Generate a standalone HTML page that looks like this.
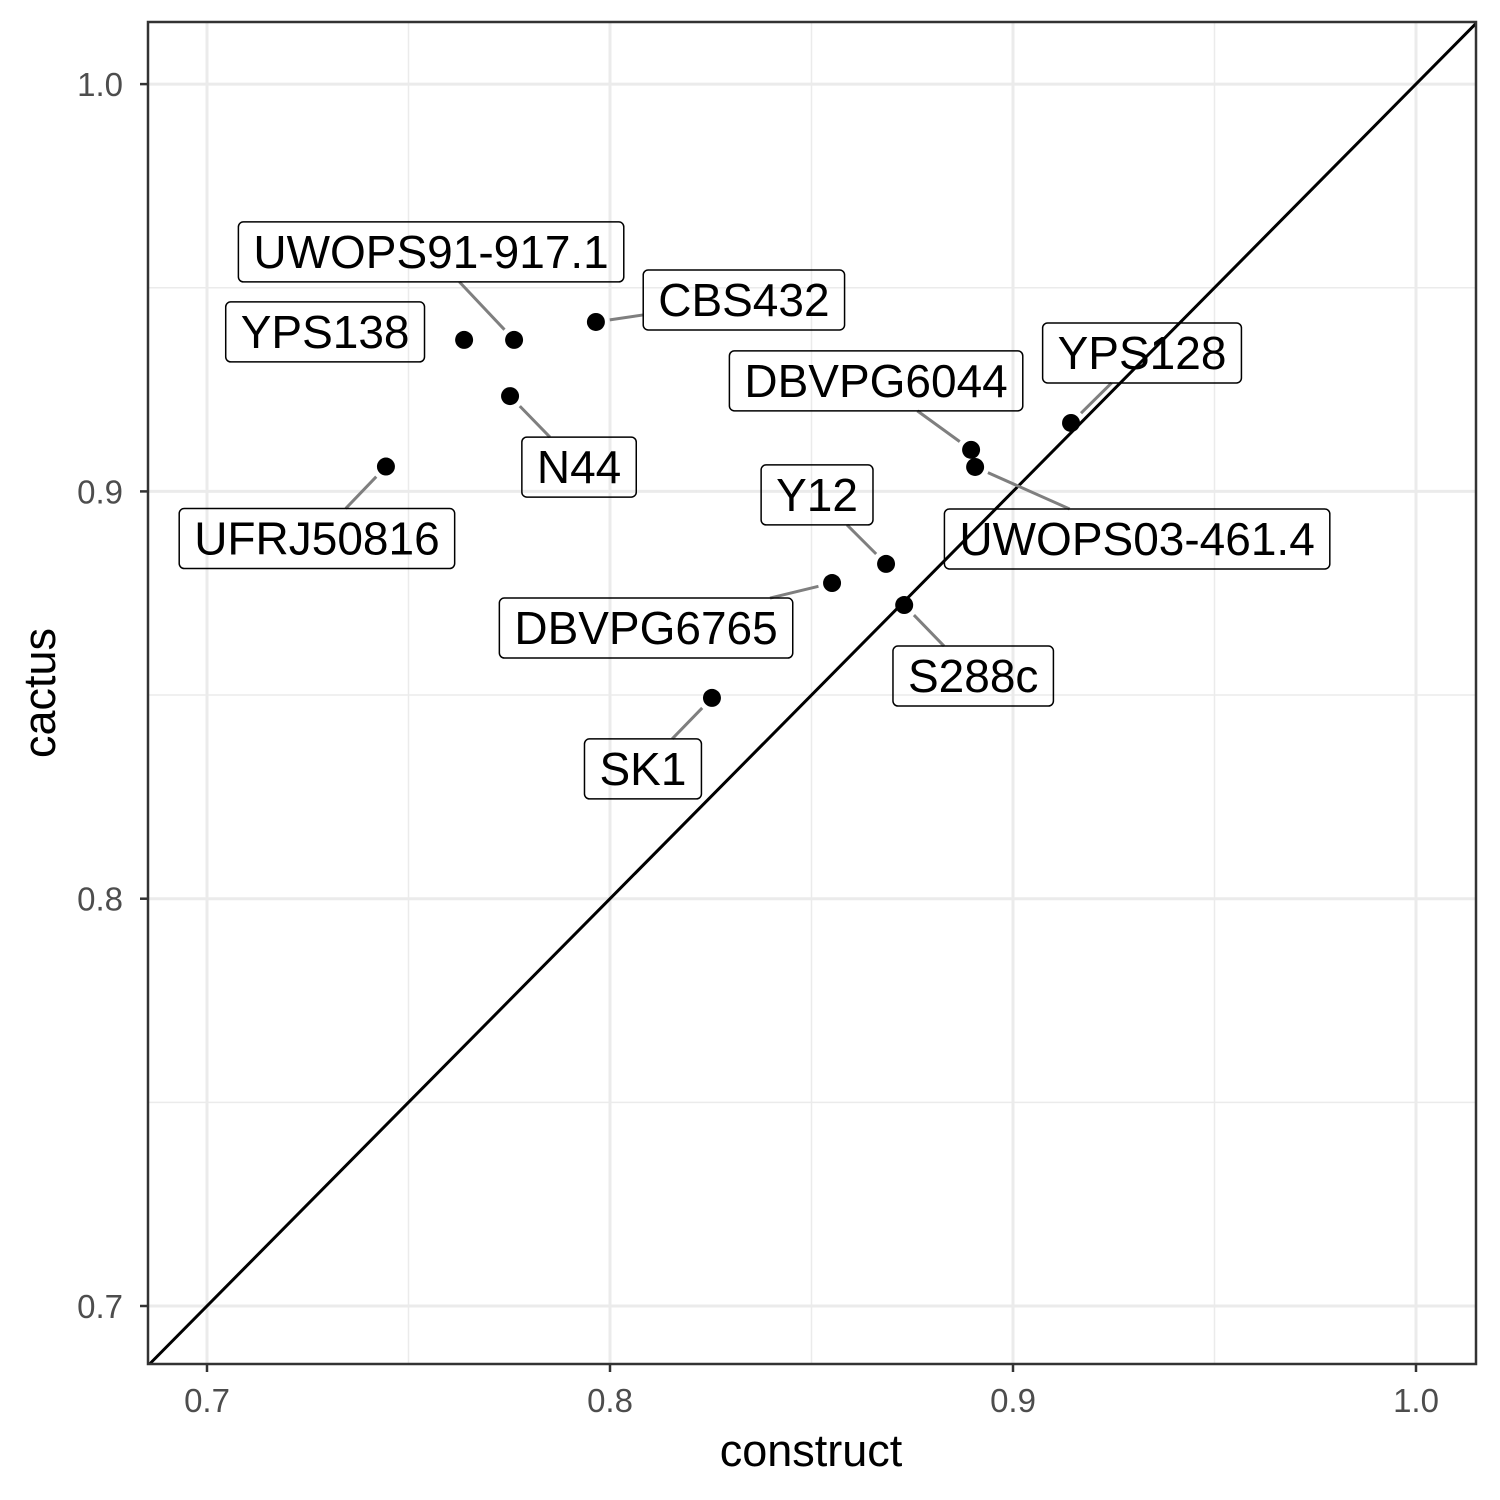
<!DOCTYPE html>
<html><head><meta charset="utf-8"><style>
body{margin:0;background:#fff}
svg{display:block;font-family:"Liberation Sans",sans-serif}
</style></head><body>
<svg id="chart" width="1500" height="1500"></svg>
<script>
const names=["UFRJ50816","YPS138","UWOPS91-917.1","N44","CBS432","SK1","DBVPG6765","Y12","S288c","DBVPG6044","UWOPS03-461.4","YPS128"];
const constructVals=[0.7444,0.7638,0.7762,0.7752,0.7965,0.8253,0.8551,0.8685,0.8730,0.8896,0.8906,0.9144];
const cactusVals=[0.9061,0.9372,0.9372,0.9234,0.9416,0.8493,0.8775,0.8822,0.8721,0.9102,0.9060,0.9168];
const labelDx=[-69,-139,-83,69,148,-69,-186,-69,69,-95,162,71];
const labelDy=[72,-8,-88,71,-22,71,45,-69,71,-69,72,-70];
const xTicks=[0.7,0.8,0.9,1.0];
const yTicks=[0.7,0.8,0.9,1.0];
const xMinor=[0.75,0.85,0.95];
const yMinor=[0.75,0.85,0.95];

const L=148,R=1476,T=22,B=1364;
const X=v=>207+(v-0.7)*4030;
const Y=v=>1306-(v-0.7)*4073;
const NS="http://www.w3.org/2000/svg";
const svg=document.getElementById('chart');
function mk(tag,attrs,parent){const e=document.createElementNS(NS,tag);for(const k in attrs)e.setAttribute(k,attrs[k]);(parent||svg).appendChild(e);return e;}

const grid=mk('g',{});


xMinor.forEach(v=>mk('line',{x1:X(v),x2:X(v),y1:T,y2:B,stroke:'#ebebeb','stroke-width':1.5},grid));
yMinor.forEach(v=>mk('line',{x1:L,x2:R,y1:Y(v),y2:Y(v),stroke:'#ebebeb','stroke-width':1.5},grid));
xTicks.forEach(v=>mk('line',{x1:X(v),x2:X(v),y1:T,y2:B,stroke:'#ebebeb','stroke-width':3},grid));
yTicks.forEach(v=>mk('line',{x1:L,x2:R,y1:Y(v),y2:Y(v),stroke:'#ebebeb','stroke-width':3},grid));

const x0=Math.max(0.7+(L-207)/4030, 0.7+(1306-B)/4073);
const x1=Math.min(0.7+(R-207)/4030, 0.7+(1306-T)/4073);
const diag=mk('line',{x1:X(x0),y1:Y(x0),x2:X(x1),y2:Y(x1),stroke:'#000','stroke-width':3});



const segG=mk('g',{});
const ptG=mk('g',{});
const labG=mk('g',{});
names.forEach((n,i)=>{
  const px=X(constructVals[i]),py=Y(cactusVals[i]);
  const cx=px+labelDx[i],cy=py+labelDy[i];
  const t=mk('text',{x:cx,y:cy+16,'text-anchor':'middle','font-size':46,fill:'#000'},labG);
  t.textContent=n;
  
  
  const w=t.getComputedTextLength()+30,h=60;
  const bx=cx-w/2,by=cy-h/2;
  const rect=mk('rect',{x:bx,y:by,width:w,height:h,rx:5,fill:'none',stroke:'#000','stroke-width':1.5},labG);
  
  
  labG.insertBefore(rect,t);
  const dx=cx-px,dy=cy-py;
  const sx=dx!==0?(Math.abs(dx)-w/2)/Math.abs(dx):-1;
  const sy=dy!==0?(Math.abs(dy)-h/2)/Math.abs(dy):-1;
  const f=Math.max(sx,sy);
  if(f>0){
    const qx=px+dx*f,qy=py+dy*f;
    const len=Math.hypot(qx-px,qy-py);
    if(len>42){
      const ux=dx/Math.hypot(dx,dy),uy=dy/Math.hypot(dx,dy);
      const s=mk('line',{x1:px+ux*14,y1:py+uy*14,x2:qx,y2:qy,stroke:'#7f7f7f','stroke-width':3},segG);
      
      
    }
  }
  const c=mk('circle',{cx:px,cy:py,r:9,fill:'#000'},ptG);
  
  
});

const frame=mk('rect',{x:L,y:T,width:R-L,height:B-T,fill:'none',stroke:'#333','stroke-width':2.5});



xTicks.forEach(v=>{
  mk('line',{x1:X(v),x2:X(v),y1:B,y2:B+8,stroke:'#333','stroke-width':2.5});
  const t=mk('text',{x:X(v),y:B+48,'text-anchor':'middle','font-size':33,fill:'#4d4d4d'});
  t.textContent=v.toFixed(1);
  
  
});
yTicks.forEach(v=>{
  mk('line',{x1:L-8,x2:L,y1:Y(v),y2:Y(v),stroke:'#333','stroke-width':2.5});
  const t=mk('text',{x:L-25,y:Y(v)+12,'text-anchor':'end','font-size':33,fill:'#4d4d4d'});
  t.textContent=v.toFixed(1);
  
  
});
const xt=mk('text',{x:811,y:1466,'text-anchor':'middle','font-size':45,fill:'#000'});
xt.textContent='construct';


const yt=mk('text',{x:0,y:0,'text-anchor':'middle','font-size':45,fill:'#000',transform:'translate(55,693) rotate(-90)'});
yt.textContent='cactus';


</script>
</body></html>
